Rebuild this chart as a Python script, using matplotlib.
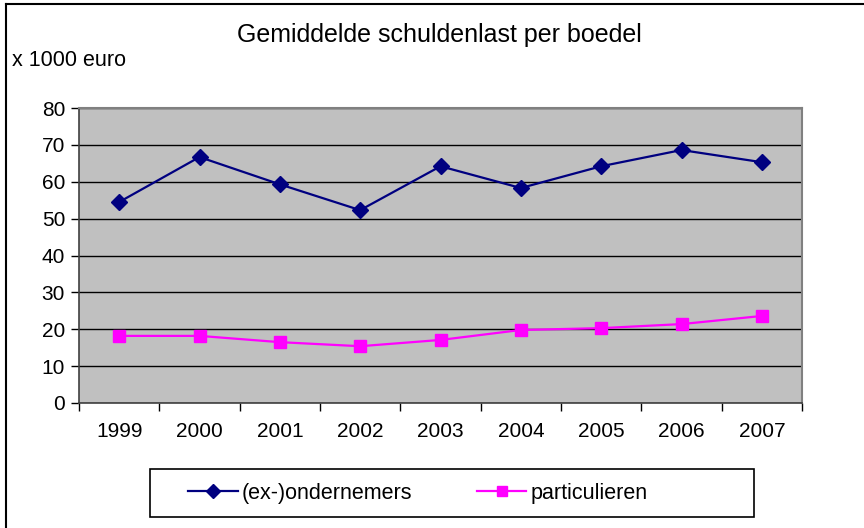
import matplotlib
matplotlib.use('Agg')
import matplotlib.pyplot as plt
from matplotlib.lines import Line2D
from matplotlib.patches import Rectangle

plt.rcParams['font.family'] = ['Liberation Sans', 'DejaVu Sans']

years = ['1999', '2000', '2001', '2002', '2003', '2004', '2005', '2006', '2007']
ondernemers = [54.5, 66.7, 59.3, 52.3, 64.2, 58.3, 64.2, 68.6, 65.3]
particulieren = [18.2, 18.2, 16.5, 15.4, 17.1, 19.8, 20.3, 21.4, 23.6]

fig = plt.figure(figsize=(8.64, 5.28), dpi=100)
ax = fig.add_axes([79/864, 1-403/528, (802-79)/864, (403-108)/528])
ax.set_facecolor('#C0C0C0')

x = range(len(years))
ax.plot(x, ondernemers, color='#000080', lw=1.6, marker='D', ms=8.5, label='(ex-)ondernemers', zorder=3)
ax.plot(x, particulieren, color='#FF00FF', lw=1.6, marker='s', ms=9, label='particulieren', zorder=3)

ax.set_ylim(0, 80)
ax.set_yticks(range(0, 81, 10))
ax.yaxis.grid(True, color='black', lw=1)
ax.set_axisbelow(True)

ax.set_xlim(-0.5, len(years) - 0.5)
ax.set_xticks([i - 0.5 for i in range(len(years) + 1)])
ax.set_xticklabels([])
ax.set_xticks(list(x), minor=True)
ax.set_xticklabels(years, minor=True)
ax.tick_params(axis='x', which='minor', length=0, pad=14, labelsize=15)
ax.tick_params(axis='x', which='major', length=6, width=1, direction='out')
ax.tick_params(axis='y', length=6, width=1, direction='out', labelsize=15, pad=4)

for s in ['left', 'bottom']:
    ax.spines[s].set_color('#404040')
    ax.spines[s].set_linewidth(1.2)
for s in ['top', 'right']:
    ax.spines[s].set_color('#808080')
    ax.spines[s].set_linewidth(1.5)

fig.text(439/864, 1-35/528, 'Gemiddelde schuldenlast per boedel', ha='center', va='center', fontsize=18)
fig.text(12/864, 1-61/528, 'x 1000 euro', ha='left', va='center', fontsize=15.5)

# legend frame drawn by hand so the padding matches
fig.add_artist(Rectangle((150/864, 1-517/528), (754-150)/864, (517-469)/528,
                         transform=fig.transFigure, fill=False, edgecolor='black', lw=1.2))
leg = fig.legend(loc='center', bbox_to_anchor=(418/864, 1-493/528), ncol=2, fontsize=15.5,
                 frameon=False, columnspacing=3.0, handlelength=2.3, handletextpad=0.2,
                 markerscale=0.8)

# chart border (left and top visible)
fig.add_artist(Line2D([6/864, 6/864], [0, 1-4/528], transform=fig.transFigure, color='black', lw=1.5))
fig.add_artist(Line2D([6/864, 1], [1-4/528, 1-4/528], transform=fig.transFigure, color='black', lw=1.5))

fig.savefig('out.png', dpi=100)
